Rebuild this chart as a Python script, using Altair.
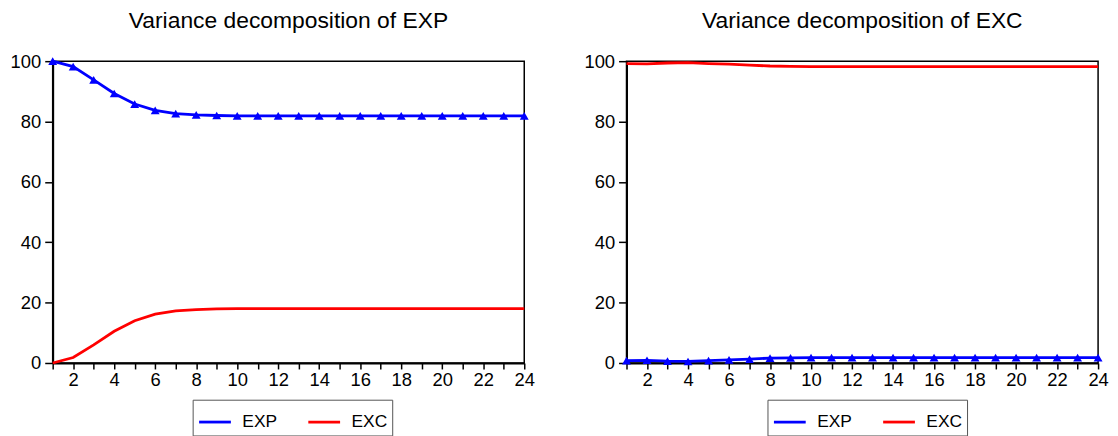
import altair as alt
import pandas as pd

periods = list(range(1, 25))

# Variance decomposition of EXP
left_exp = [100.0, 98.2, 93.8, 89.3, 85.8, 83.7, 82.6, 82.2, 82.0, 81.9, 81.9, 81.9,
            81.9, 81.9, 81.9, 81.9, 81.9, 81.9, 81.9, 81.9, 81.9, 81.9, 81.9, 81.9]
left_exc = [0.0, 1.8, 6.0, 10.5, 14.0, 16.2, 17.3, 17.7, 17.9, 18.0, 18.0, 18.0,
            18.0, 18.0, 18.0, 18.0, 18.0, 18.0, 18.0, 18.0, 18.0, 18.0, 18.0, 18.0]

# Variance decomposition of EXC
right_exp = [0.8, 0.9, 0.6, 0.5, 0.8, 1.0, 1.3, 1.6, 1.7, 1.8, 1.8, 1.8,
             1.8, 1.8, 1.8, 1.8, 1.8, 1.8, 1.8, 1.8, 1.8, 1.8, 1.8, 1.8]
right_exc = [99.2, 99.1, 99.4, 99.5, 99.2, 99.0, 98.7, 98.4, 98.3, 98.2, 98.2, 98.2,
             98.2, 98.2, 98.2, 98.2, 98.2, 98.2, 98.2, 98.2, 98.2, 98.2, 98.2, 98.2]

series_names = ["EXP", "EXC"]
series_colors = ["#0000ff", "#ff0000"]
titles = ["Variance decomposition of EXP", "Variance decomposition of EXC"]
y_ticks = [0, 20, 40, 60, 80, 100]

FONT = "Liberation Sans"


def panel(exp_vals, exc_vals, title, legend_x):
    df = pd.DataFrame({
        "period": periods * 2,
        "series": ["EXP"] * len(periods) + ["EXC"] * len(periods),
        "value": exp_vals + exc_vals,
    })
    base = alt.Chart(df)
    x = alt.X(
        "period:Q",
        scale=alt.Scale(domain=[1, 24], nice=False, zero=False),
        axis=alt.Axis(
            values=periods,
            labelExpr="datum.value % 2 == 0 ? datum.label : ''",
            title=None, grid=False, tickSize=6, tickWidth=1.5, tickColor="black",
            domainColor="black", domainWidth=2, labelFont=FONT, labelFontSize=18.5,
            labelColor="black", labelPadding=2, labelFlush=False,
        ),
    )
    y = alt.Y(
        "value:Q",
        scale=alt.Scale(domain=[0, 100], nice=False),
        axis=alt.Axis(
            values=y_ticks, title=None, grid=False, tickSize=8, tickWidth=1.5,
            tickColor="black", domainColor="black", domainWidth=2, labelFont=FONT,
            labelFontSize=18.5, labelColor="black", labelPadding=4,
            minExtent=44, maxExtent=44, labelFlush=False,
        ),
    )
    lines = base.mark_line(strokeWidth=2.8).encode(
        x=x, y=y,
        color=alt.Color(
            "series:N",
            scale=alt.Scale(domain=series_names, range=series_colors),
            legend=alt.Legend(
                title=None, orient="none", direction="horizontal",
                legendX=legend_x, legendY=341,
                strokeColor="#555555", fillColor="white", padding=5,
                symbolType="stroke", symbolSize=1024, symbolStrokeWidth=2.8,
                labelFont=FONT, labelFontSize=17.5, labelColor="black",
                labelOffset=10, columnPadding=24,
            ),
        ),
    )
    tri = base.transform_filter(alt.datum.series == "EXP").mark_point(
        shape="triangle-up", filled=True, size=80, color="#0000ff", opacity=1
    ).encode(x=x, y=y)
    return alt.layer(lines, tri).properties(
        width=475, height=304,
        title=alt.TitleParams(title, font=FONT, fontSize=23, fontWeight="normal",
                              color="black", offset=19, anchor="middle"),
    )


chart = alt.hconcat(
    panel(left_exp, left_exc, titles[0], 141),
    panel(right_exp, right_exc, titles[1], 142),
    spacing=103, bounds="flush",
).resolve_scale(
    color="independent"
).resolve_legend(
    color="independent"
).properties(
    padding={"left": 0, "top": 0, "right": 0, "bottom": 0},
    background="white",
).configure_view(
    stroke="black", strokeWidth=1.5
)

chart.save("out.html", embed_options={"renderer": "svg", "actions": False})
